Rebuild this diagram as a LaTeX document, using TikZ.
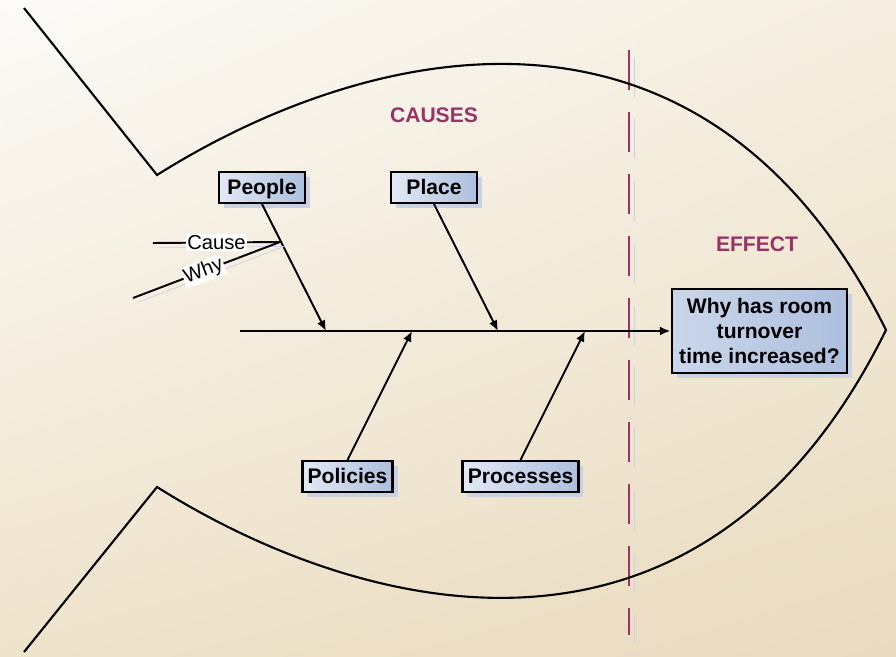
\documentclass[tikz,border=0pt]{standalone}
\usepackage{fontspec}
\setmainfont{Liberation Sans}
\usetikzlibrary{arrows.meta,shadows,shadings}

\definecolor{maroon}{HTML}{993366}
\definecolor{boxlight}{HTML}{E2E9F5}
\definecolor{boxdark}{HTML}{ADBFDE}
\definecolor{shadowblue}{HTML}{C8D2E2}
\definecolor{bgA}{HTML}{FCFBF8}
\definecolor{bgB}{HTML}{F5EEE0}
\definecolor{bgC}{HTML}{EFE3CC}
\definecolor{bgD}{HTML}{E9DBBF}

\begin{document}
\begin{tikzpicture}[x=0.02cm, y=-0.02cm,
    outline/.style={line width=1.2pt, line join=miter},
    bone/.style={line width=1.1pt, -{Latex[length=6pt,width=5pt]}},
    lineshadow/.style={preaction={draw=shadowblue, transform canvas={xshift=2.5pt, yshift=-2.5pt}}},
    divshadow/.style={preaction={draw=shadowblue, dash pattern=on 0.8cm off 0.44cm,
                      transform canvas={xshift=2.8pt, yshift=-4pt}}},
    cat/.style={rectangle, draw=black, line width=1.3pt, left color=boxlight, right color=boxdark,
                minimum width=48.8pt, minimum height=17.6pt, inner xsep=3pt,
                text height=8.6pt, text depth=1.2pt,
                font=\fontsize{12}{14}\selectfont\bfseries,
                drop shadow={shadow xshift=2.8pt, shadow yshift=-2.8pt, fill=shadowblue, opacity=1}},
    effectbox/.style={cat, left color=boxlight!55!boxdark, right color=boxdark,
                      text height=, text depth=,
                      minimum width=100pt, minimum height=47.6pt, align=center},
    heading/.style={font=\fontsize{12}{14}\selectfont\bfseries, text=maroon},
    tag/.style={fill=white, inner sep=0.6pt, font=\fontsize{11.5}{13}\selectfont}
]

% Background
\useasboundingbox (0,0) rectangle (896,656);
\shade[upper left=bgA, upper right=bgB, lower left=bgC, lower right=bgD] (0,0) rectangle (896,656);

% Divider between causes and effect
\coordinate (divtop) at (629,50);
\coordinate (divbot) at (629,635);
\draw[maroon, line width=1.3pt, dash pattern=on 0.8cm off 0.44cm, divshadow] (divtop) -- (divbot);

% Fish outline
\draw[outline] (24,8) -- (157,175) .. controls (357,49) and (700,-45) .. (886,330)
    .. controls (700,707) and (357,613) .. (157,487) -- (24,652);

% Headings
\node[heading] (causes) at (434,115) {CAUSES};
\node[heading] (effecttitle) at (757,244) {EFFECT};

% Boxes
\node[cat] (people) at (262,187.5) {People};
\node[cat] (place) at (434,187.5) {Place};
\node[cat] (policies) at (347.5,476.5) {Policies};
\node[cat] (processes) at (520.5,476.5) {Processes};
\node[effectbox] (effect) at (759.5,331) {Why has room\\turnover\\time increased?};

% Spine
\coordinate (tail) at (240,331);
\draw[bone] (tail) -- (effect.west);

% Bones
\coordinate (peoplehit) at (326,331);
\coordinate (placehit) at (498,331);
\coordinate (policieshit) at (412,331);
\coordinate (processeshit) at (585,331);
\draw[bone] (people.south) -- (peoplehit);
\draw[bone] (place.south) -- (placehit);
\draw[bone] (policies.north) -- (policieshit);
\draw[bone] (processes.north) -- (processeshit);

% Cause / Why
\coordinate (cw) at (280,242);
\coordinate (causeend) at (153,243);
\coordinate (whyend) at (133,298);
\draw[line width=1.1pt, lineshadow] (causeend) -- node[tag] {Cause} (cw);
\draw[line width=1.1pt, lineshadow] (whyend) -- node[tag, sloped, pos=0.48] {Why} (cw);

\end{tikzpicture}
\end{document}
